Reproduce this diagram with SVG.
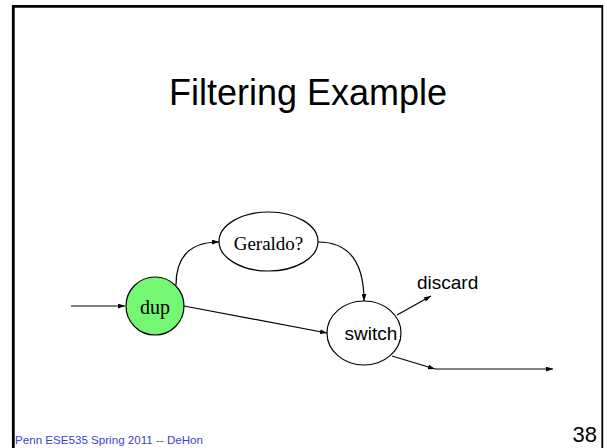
<svg xmlns="http://www.w3.org/2000/svg" width="607" height="448" viewBox="0 0 607 448">
  <defs>
    <marker id="arrow" markerWidth="7" markerHeight="5" refX="7" refY="2.5" orient="auto" markerUnits="userSpaceOnUse">
      <path d="M0,0 L7,2.5 L0,5 Z" fill="#000"/>
    </marker>
  </defs>
  <style>
    .edge { fill: none; stroke: #000; stroke-width: 1.2; marker-end: url(#arrow); }
    .node { stroke: #000; stroke-width: 1.2; }
    .serif { font-family: "Liberation Serif", "Times New Roman", serif; fill: #000; }
    .sans { font-family: "Liberation Sans", Arial, sans-serif; fill: #000; }
  </style>
  <rect width="607" height="448" fill="#fff"/>

  <!-- slide frame -->
  <g id="frame" fill="none" stroke="#000">
    <line x1="13.3" y1="5" x2="13.3" y2="448" stroke-width="2.8"/>
    <line x1="12" y1="6.3" x2="603" y2="6.3" stroke-width="2.8"/>
    <line x1="602.3" y1="5" x2="602.3" y2="448" stroke-width="1.8"/>
  </g>

  <text id="title" class="sans" x="308" y="105" font-size="36" text-anchor="middle">Filtering Example</text>

  <!-- connectors -->
  <g id="connectors">
    <line class="edge" x1="71" y1="306" x2="125" y2="306"/>
    <path class="edge" d="M176,285 Q176,242 219,242"/>
    <path class="edge" d="M318,242 Q364,242 364,301"/>
    <line class="edge" x1="184" y1="306" x2="327" y2="333"/>
    <line class="edge" x1="397" y1="315" x2="431" y2="296"/>
    <line class="edge" x1="392" y1="356" x2="435" y2="369"/>
    <line class="edge" x1="435" y1="369" x2="553" y2="369"/>
  </g>

  <g id="dup">
    <circle class="node" cx="155" cy="306" r="29" fill="#74f774"/>
    <text class="serif" x="155" y="314" font-size="20" text-anchor="middle">dup</text>
  </g>

  <g id="geraldo">
    <ellipse class="node" cx="268.5" cy="241.5" rx="49.5" ry="29.5" fill="#fff"/>
    <text class="serif" x="268.5" y="250" font-size="19" text-anchor="middle">Geraldo?</text>
  </g>

  <g id="switch">
    <ellipse class="node" cx="364" cy="333" rx="37" ry="32" fill="#fff"/>
    <text class="sans" x="371" y="340" font-size="19" text-anchor="middle">switch</text>
  </g>

  <g id="discard">
    <text class="sans" x="417" y="289" font-size="19">discard</text>
  </g>

  <!-- footer -->
  <text id="footer" x="15" y="444" font-family="Liberation Sans, Arial, sans-serif" font-size="11.6" fill="#4040d0">Penn ESE535 Spring 2011 -- DeHon</text>
  <text id="page" class="sans" x="597" y="442" font-size="22" text-anchor="end">38</text>
</svg>
